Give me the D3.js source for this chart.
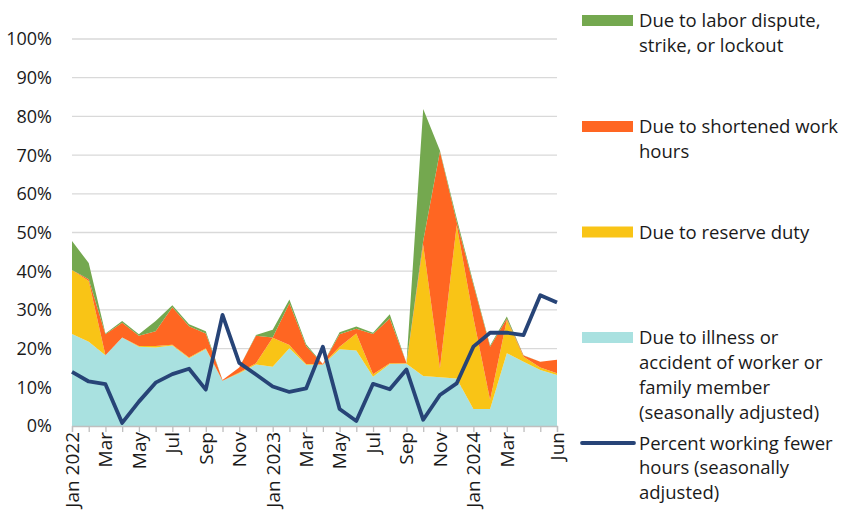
<!DOCTYPE html>
<html><head><meta charset="utf-8">
<script src="https://cdn.jsdelivr.net/npm/d3@7"></script>
<style>body{margin:0;background:#fff}svg{display:block}text{font-family:"Open Sans",sans-serif;fill:#1a1a1a}</style>
</head><body><svg id="c" width="846" height="516"></svg>
<script>
const months = ["Jan 2022","Feb","Mar","Apr","May","Jun","Jul","Aug","Sep","Oct","Nov","Dec",
  "Jan 2023","Feb","Mar","Apr","May","Jun","Jul","Aug","Sep","Oct","Nov","Dec",
  "Jan 2024","Feb","Mar","Apr","May","Jun"];
const illness  = [23.8,21.8,18.3,22.9,20.5,20.3,20.8,17.5,19.9,11.7,13.6,15.9,15.3,20.1,15.8,15.8,19.8,19.5,12.7,16.0,16.1,12.9,12.6,12.3,4.4,4.4,18.8,16.6,14.5,13.2];
const reserve  = [16.5,15.7,0,0,0.2,0.4,0.2,0.2,0.2,0,0.2,0.3,7.5,0.8,0.2,0.1,0.7,4.4,0.7,0.2,0.1,33.9,2.3,39.6,23.6,2.3,8.6,1.3,0.6,0.4];
const shortened= [0,0.4,5.4,3.8,2.6,3.8,9.7,8.1,3.8,0.2,1.3,7.1,0.1,10.8,4.7,0.1,3.2,1.2,10.4,11.6,0.1,1.0,56.0,0.9,8.5,13.8,0.3,0.3,1.5,3.5];
const labor    = [7.5,4.2,0.2,0.4,0.4,2.6,0.5,0.5,0.6,0,0,0.2,2.0,1.0,0.4,0,0.5,0.6,0.3,1.1,0,34.1,0.3,0.9,0.5,0.3,0.6,0.1,0,0];
const fewer    = [14.0,11.5,10.8,0.8,6.3,11.2,13.4,14.8,9.4,28.7,16.3,13.3,10.2,8.8,9.7,20.5,4.4,1.3,10.9,9.5,14.6,1.6,8.0,11.0,20.5,24.1,24.1,23.5,33.8,31.9];
const yTicks = [0,10,20,30,40,50,60,70,80,90,100];
const labelIdx = [0,2,4,6,8,10,12,14,16,18,20,22,24,26,29];

const seriesKeys = ["illness","reserve","shortened","labor"];
const colors = {illness:"#A9E1E0", reserve:"#F9C416", shortened:"#FF6622", labor:"#74A84F"};
const lineColor = "#274477";

const rows = months.map((m,i)=>({i, illness:illness[i], reserve:reserve[i], shortened:shortened[i], labor:labor[i]}));

const svg = d3.select("#c");
const L=72, R=557, T=39, B=426;
const x = d3.scaleLinear().domain([0, months.length-1]).range([L,R]);
const y = d3.scaleLinear().domain([0,100]).range([B,T]);

svg.append("g").selectAll("line").data(yTicks.filter(d=>d>0)).join("line")
  .attr("x1",L).attr("x2",R).attr("y1",d=>y(d)).attr("y2",d=>y(d))
  .attr("stroke","#D9D9D9").attr("stroke-width",1.3);

const stack = d3.stack().keys(seriesKeys)(rows);
const area = d3.area().x(d=>x(d.data.i)).y0(d=>y(d[0])).y1(d=>y(d[1]));
svg.append("g").selectAll("path").data(stack).join("path")
  .attr("d",area).attr("fill",d=>colors[d.key]);

svg.append("g").selectAll("text").data(yTicks).join("text")
  .attr("x",52).attr("y",d=>y(d)).attr("dy","0.36em").attr("text-anchor","end")
  .attr("font-size",18).text(d=>d+"%");

const xAxis = d3.axisBottom(x).tickValues(d3.range(months.length)).tickSize(6).tickFormat("");
const gx = svg.append("g").attr("transform",`translate(0,${B})`).call(xAxis);
gx.select(".domain").attr("stroke","#BFBFBF").attr("stroke-width",1.3);
gx.selectAll(".tick line").attr("stroke","#BFBFBF").attr("stroke-width",1.3);

svg.append("g").selectAll("text").data(labelIdx).join("text")
  .attr("transform",i=>`translate(${x(i)},${B+6}) rotate(-90)`)
  .attr("text-anchor","end").attr("dy","0.36em").attr("font-size",19)
  .text(i=>months[i]);

svg.append("path").datum(fewer)
  .attr("d", d3.line().x((d,i)=>x(i)).y(d=>y(d)))
  .attr("fill","none").attr("stroke",lineColor).attr("stroke-width",3.8).attr("stroke-linejoin","round");

const legend = [
  {type:"rect", color:colors.labor, cy:20.5, lines:["Due to labor dispute,","strike, or lockout"]},
  {type:"rect", color:colors.shortened, cy:126.5, lines:["Due to shortened work","hours"]},
  {type:"rect", color:colors.reserve, cy:232, lines:["Due to reserve duty"]},
  {type:"rect", color:colors.illness, cy:337.5, lines:["Due to illness or","accident of worker or","family member","(seasonally adjusted)"]},
  {type:"line", color:lineColor, cy:443, lines:["Percent working fewer","hours (seasonally","adjusted)"]}
];
const lg = svg.append("g");
legend.forEach(item=>{
  if(item.type==="rect"){
    lg.append("rect").attr("x",582).attr("y",item.cy-5.5).attr("width",51).attr("height",11).attr("fill",item.color);
  } else {
    lg.append("line").attr("x1",582).attr("x2",634).attr("y1",item.cy).attr("y2",item.cy)
      .attr("stroke",item.color).attr("stroke-width",3.8).attr("stroke-linecap","round");
  }
  item.lines.forEach((t,k)=>{
    lg.append("text").attr("x",639).attr("y",item.cy+k*24.8).attr("dy","0.36em").attr("font-size",18.5).text(t);
  });
});
</script></body></html>
